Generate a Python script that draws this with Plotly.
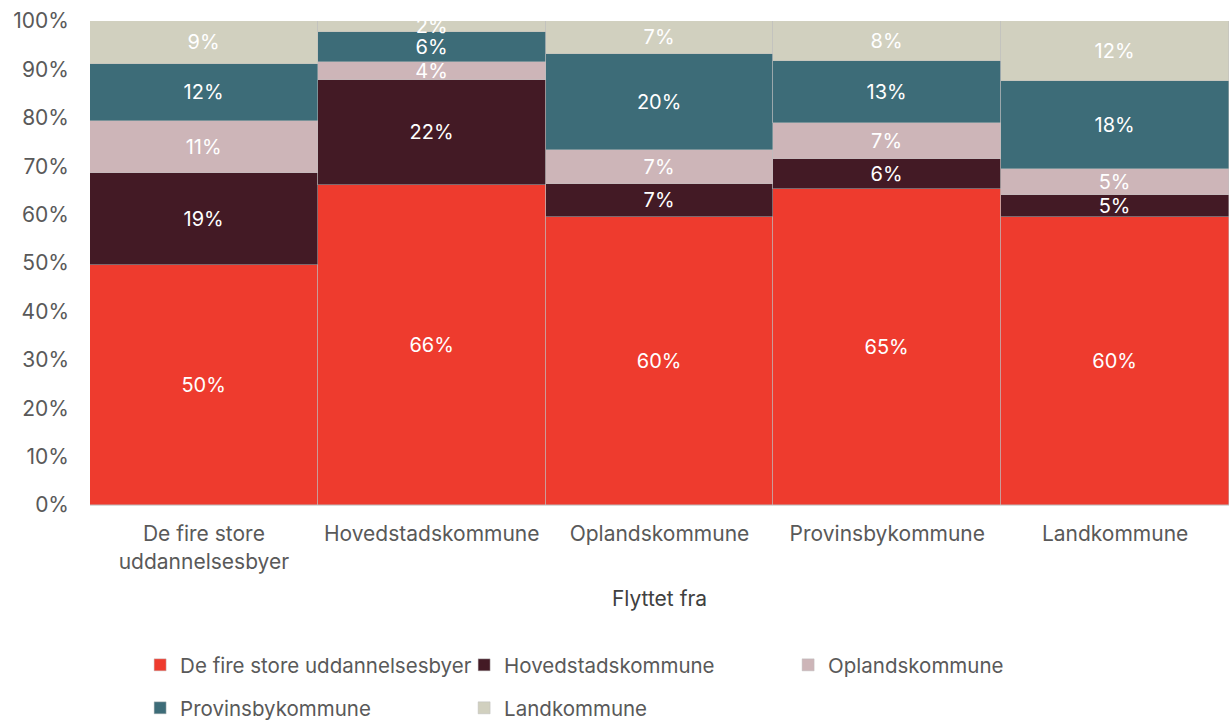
import plotly.graph_objects as go

categories = ["De fire store<br>uddannelsesbyer", "Hovedstadskommune", "Oplandskommune",
              "Provinsbykommune", "Landkommune"]
series_names = ["De fire store uddannelsesbyer", "Hovedstadskommune", "Oplandskommune",
                "Provinsbykommune", "Landkommune"]
v_fire = [49.6, 66.1, 59.6, 65.3, 59.5]
v_hoved = [19.0, 21.7, 6.8, 6.2, 4.6]
v_opland = [10.7, 3.7, 7.0, 7.4, 5.4]
v_provins = [11.8, 6.2, 19.8, 12.9, 18.1]
v_land = [8.9, 2.3, 6.8, 8.2, 12.4]
colors = ["#EE3B2E", "#431A25", "#CDB5B8", "#3D6C78", "#D1D0BF"]
legend_ids = ["legend", "legend", "legend", "legend2", "legend2"]
ytick_vals = list(range(0, 101, 10))
ytick_text = [f"{v}%" for v in ytick_vals]

values = [v_fire, v_hoved, v_opland, v_provins, v_land]

fig = go.Figure()
for name, vals, col, lg in zip(series_names, values, colors, legend_ids):
    fig.add_trace(go.Bar(
        x=categories, y=vals, name=name, legend=lg,
        marker=dict(color=col, line=dict(width=0.8, color="rgba(190,190,190,0.6)")),
        text=[f"{round(v):.0f}%" for v in vals],
        textposition="inside", insidetextanchor="middle", textangle=0,
        textfont=dict(color="white", size=20),
        hoverinfo="skip",
    ))

legend_common = dict(orientation="h", x=0.044, xanchor="left", yanchor="middle",
                     entrywidth=279, entrywidthmode="pixels", itemwidth=30,
                     font=dict(size=20.5, color="#595959"), traceorder="normal",
                     bgcolor="rgba(0,0,0,0)")

fig.update_layout(
    barmode="stack", bargap=0,
    width=1229, height=720, autosize=False,
    margin=dict(l=90, r=0, t=21, b=215, autoexpand=False),
    paper_bgcolor="white", plot_bgcolor="white",
    font=dict(family="Inter, Liberation Sans, sans-serif", size=21, color="#595959"),
    uniformtext=dict(minsize=19, mode="show"),
    xaxis=dict(title=dict(text="Flyttet fra", standoff=18, font=dict(size=21, color="#404040")),
               showgrid=False, showline=True, linecolor="#d9d9d9", linewidth=1,
               tickfont=dict(size=21, color="#595959"), ticks="", ticklabelstandoff=10),
    yaxis=dict(range=[0, 100], tickmode="array", tickvals=ytick_vals, ticktext=ytick_text,
               showgrid=False, zeroline=False, showline=False,
               tickfont=dict(size=21, color="#595959"), ticks="", ticklabelstandoff=20),
    legend=dict(**legend_common, y=-0.3306),
    legend2=dict(**legend_common, y=-0.4194),
)

fig.write_html("out.html", config={"displayModeBar": False},
               post_script="document.body.style.margin='0';document.body.style.overflow='hidden';")
